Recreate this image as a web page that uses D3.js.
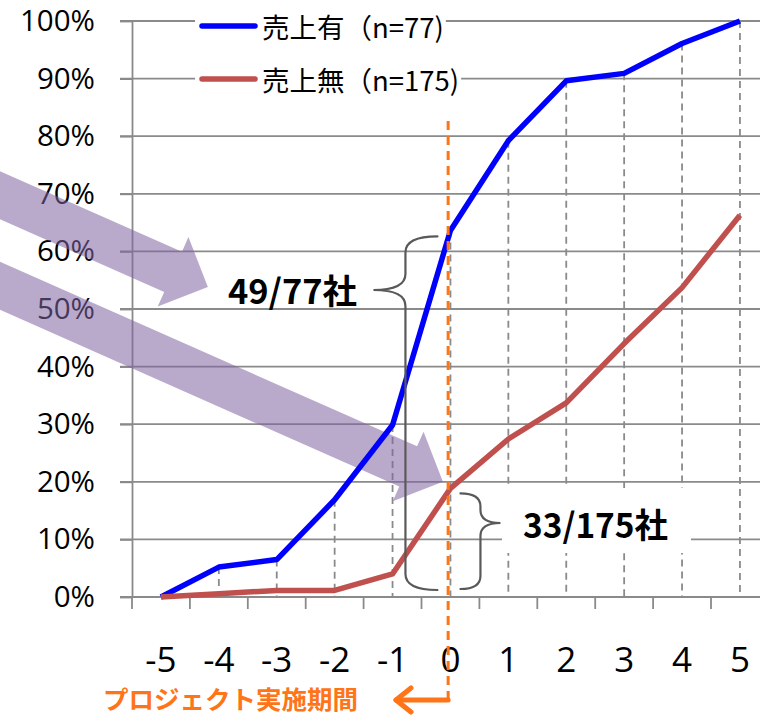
<!DOCTYPE html>
<html>
<head>
<meta charset="utf-8">
<script src="https://cdn.jsdelivr.net/npm/d3@7"></script>
<style>
  html, body { margin: 0; padding: 0; background: #fff; }
  svg { display: block; }
</style>
</head>
<body>
<script>
// Years relative to the project period (0 = implementation year)
const years = ["-5", "-4", "-3", "-2", "-1", "0", "1", "2", "3", "4", "5"];

// Cumulative number of companies reaching first sales, by year
const withSalesCounts = [0, 4, 5, 13, 23, 49, 61, 69, 70, 74, 77];
const withSalesTotal = 77;
const noSalesCounts = [0, 1, 2, 2, 7, 33, 48, 59, 77, 94, 116];
const noSalesTotal = 175;

const seriesNames = ["売上有（n=77)", "売上無（n=175)"];
const seriesColors = ["#0000ff", "#c0504d"];

const yTicks = [0, 10, 20, 30, 40, 50, 60, 70, 80, 90, 100];
const periodLabel = "プロジェクト実施期間";

const W = 760, H = 715;
const gridColor = "#8a8a8a";
const orange = "#ff7417";

const svg = d3.select("body").append("svg").attr("width", W).attr("height", H);

// Scales: category bands for the axis, a linear index scale for annotations
const x = d3.scaleBand().domain(years).range([132, 132 + 11 * 57.9]).padding(0);
const xi = d3.scaleLinear().domain([-5, 5])
  .range([x("-5") + x.bandwidth() / 2, x("5") + x.bandwidth() / 2]);
const y = d3.scaleLinear().domain([0, 100]).range([597, 21]);
const cx = d => x(d) + x.bandwidth() / 2;

const pctYes = withSalesCounts.map(c => c / withSalesTotal * 100);
const pctNo = noSalesCounts.map(c => c / noSalesTotal * 100);
const seriesData = [pctYes, pctNo];

const xRight = x.range()[1];

// Horizontal gridlines
svg.append("g").selectAll("line").data(yTicks).join("line")
  .attr("x1", 120).attr("x2", xRight)
  .attr("y1", d => y(d)).attr("y2", d => y(d))
  .attr("stroke", gridColor).attr("stroke-width", 1.8);

// Drop lines from the 売上有 series to the axis
svg.append("g").selectAll("line").data(years.filter((d, i) => pctYes[i] > 0)).join("line")
  .attr("x1", d => cx(d)).attr("x2", d => cx(d))
  .attr("y1", d => y(pctYes[years.indexOf(d)])).attr("y2", y(0))
  .attr("stroke", gridColor).attr("stroke-width", 1.8)
  .attr("stroke-dasharray", "7,5");

// Category axis boundary ticks
svg.append("g").selectAll("line").data(d3.range(years.length + 1)).join("line")
  .attr("x1", i => x.range()[0] + i * x.bandwidth())
  .attr("x2", i => x.range()[0] + i * x.bandwidth())
  .attr("y1", y(0)).attr("y2", y(0) + 12)
  .attr("stroke", gridColor).attr("stroke-width", 1.8);

// Y axis
const yAxis = svg.append("g").attr("transform", `translate(132,0)`)
  .call(d3.axisLeft(y).tickValues(yTicks).tickFormat(d => d + "%")
    .tickSize(12).tickPadding(25).tickSizeOuter(0));
yAxis.select(".domain").attr("stroke", gridColor).attr("stroke-width", 1.8);
yAxis.selectAll(".tick line").attr("stroke", gridColor).attr("stroke-width", 1.8);
yAxis.selectAll("text").attr("fill", "#000")
  .style("font-family", "'Open Sans', 'Noto Sans', sans-serif").style("font-size", "29.5px");

// X axis labels
const xAxis = svg.append("g").attr("transform", `translate(0,${y(0)})`)
  .call(d3.axisBottom(x).tickSize(0).tickPadding(50));
xAxis.select(".domain").remove();
xAxis.selectAll("text").attr("fill", "#000")
  .style("font-family", "'Open Sans', 'Noto Sans', sans-serif").style("font-size", "35px");

// White backing behind the 33/175 annotation
svg.append("rect").attr("x", 502).attr("y", 488).attr("width", 189).attr("height", 65)
  .attr("fill", "#fff");

// Block arrows pointing at the figures
function blockArrow(start, tip, shaftW, headW, headL) {
  const dx = tip[0] - start[0], dy = tip[1] - start[1];
  const len = Math.hypot(dx, dy);
  const ux = dx / len, uy = dy / len, nx = -uy, ny = ux;
  const bx = tip[0] - ux * headL, by = tip[1] - uy * headL;
  const p = (px, py, k) => [px + nx * k, py + ny * k];
  return [
    p(start[0], start[1], shaftW / 2), p(bx, by, shaftW / 2), p(bx, by, headW / 2),
    tip, p(bx, by, -headW / 2), p(bx, by, -shaftW / 2), p(start[0], start[1], -shaftW / 2)
  ];
}
const arrowDefs = [
  { from: [-8.47, 72.8], to: [-4.19, 53.8] },
  { from: [-8.47, 57.1], to: [-0.13, 20.0] }
];
svg.append("g").selectAll("path").data(arrowDefs).join("path")
  .attr("d", d => "M" + blockArrow([xi(d.from[0]), y(d.from[1])], [xi(d.to[0]), y(d.to[1])], 44, 76, 38)
    .map(p => p.join(",")).join("L") + "Z")
  .attr("fill", "#8064a2").attr("fill-opacity", 0.55);

// Series lines
const line = d3.line().x((d, i) => cx(years[i])).y(d => y(d));
svg.append("g").selectAll("path").data(seriesData).join("path")
  .attr("d", d => line(d))
  .attr("fill", "none")
  .attr("stroke", (d, i) => seriesColors[i])
  .attr("stroke-width", 5.5)
  .attr("stroke-linejoin", "round");

// Project start marker
const xStart = xi(-0.04);
svg.append("line")
  .attr("x1", xStart).attr("x2", xStart).attr("y1", 121).attr("y2", 705)
  .attr("stroke", orange).attr("stroke-width", 3).attr("stroke-dasharray", "9,6");

// Braces
function leftBrace(xEnd, xSpine, xTip, yTop, yTip, yBot, r) {
  return `M${xEnd},${yTop} Q${xSpine},${yTop} ${xSpine},${yTop + r}` +
    ` L${xSpine},${yTip - r} Q${xSpine},${yTip} ${xTip},${yTip}` +
    ` Q${xSpine},${yTip} ${xSpine},${yTip + r}` +
    ` L${xSpine},${yBot - r} Q${xSpine},${yBot} ${xEnd},${yBot}`;
}
const i0 = years.indexOf("0");
const c0 = cx("0");
const braceG = svg.append("g").attr("fill", "none").attr("stroke", "#595959")
  .attr("stroke-width", 2.2).attr("stroke-linecap", "round");
braceG.append("path")
  .attr("d", leftBrace(c0 - 13, c0 - 45, c0 - 77, y(pctYes[i0]) + 6, 290, y(0) - 7, 16));
braceG.append("path")
  .attr("d", leftBrace(c0 + 10, c0 + 30, c0 + 50, y(pctNo[i0]) + 5, 523, y(0) - 8, 13));

// Count annotations
const annFont = "'Noto Sans CJK JP', 'Noto Sans', sans-serif";
svg.append("text").attr("x", 228).attr("y", 304)
  .attr("textLength", 129).attr("lengthAdjust", "spacingAndGlyphs")
  .style("font-family", annFont).style("font-size", "34px").style("font-weight", "bold")
  .text(`${withSalesCounts[i0]}/${withSalesTotal}社`);
svg.append("text").attr("x", 523).attr("y", 538)
  .attr("textLength", 145).attr("lengthAdjust", "spacingAndGlyphs")
  .style("font-family", annFont).style("font-size", "34px").style("font-weight", "bold")
  .text(`${noSalesCounts[i0]}/${noSalesTotal}社`);

// Legend
const legendY = [26, 79];
const legend = svg.append("g");
seriesNames.forEach((name, i) => {
  const g = legend.append("g");
  const bg = g.append("rect").attr("fill", "#fff");
  g.append("line").attr("x1", 202).attr("x2", 255)
    .attr("y1", legendY[i]).attr("y2", legendY[i])
    .attr("stroke", seriesColors[i]).attr("stroke-width", 5.5).attr("stroke-linecap", "round");
  const t = g.append("text").attr("x", 262).attr("y", legendY[i])
    .attr("dominant-baseline", "central")
    .style("font-family", annFont).style("font-size", "27.5px")
    .text(name);
  const w = t.node().getComputedTextLength();
  bg.attr("x", 195).attr("y", legendY[i] - 15).attr("width", 262 + w - 195 + 2).attr("height", 30);
});

// Period caption with arrow
svg.append("text").attr("x", 103).attr("y", 709)
  .attr("fill", orange)
  .style("font-family", annFont).style("font-size", "25.5px").style("font-weight", "bold")
  .text(periodLabel);
const ag = svg.append("g").attr("stroke", orange).attr("stroke-width", 5)
  .attr("stroke-linecap", "round").attr("stroke-linejoin", "round").attr("fill", "none");
ag.append("line").attr("x1", xStart).attr("x2", 396).attr("y1", 700).attr("y2", 700);
ag.append("polyline").attr("points", "411,688 396,700 411,712");
</script>
</body>
</html>
